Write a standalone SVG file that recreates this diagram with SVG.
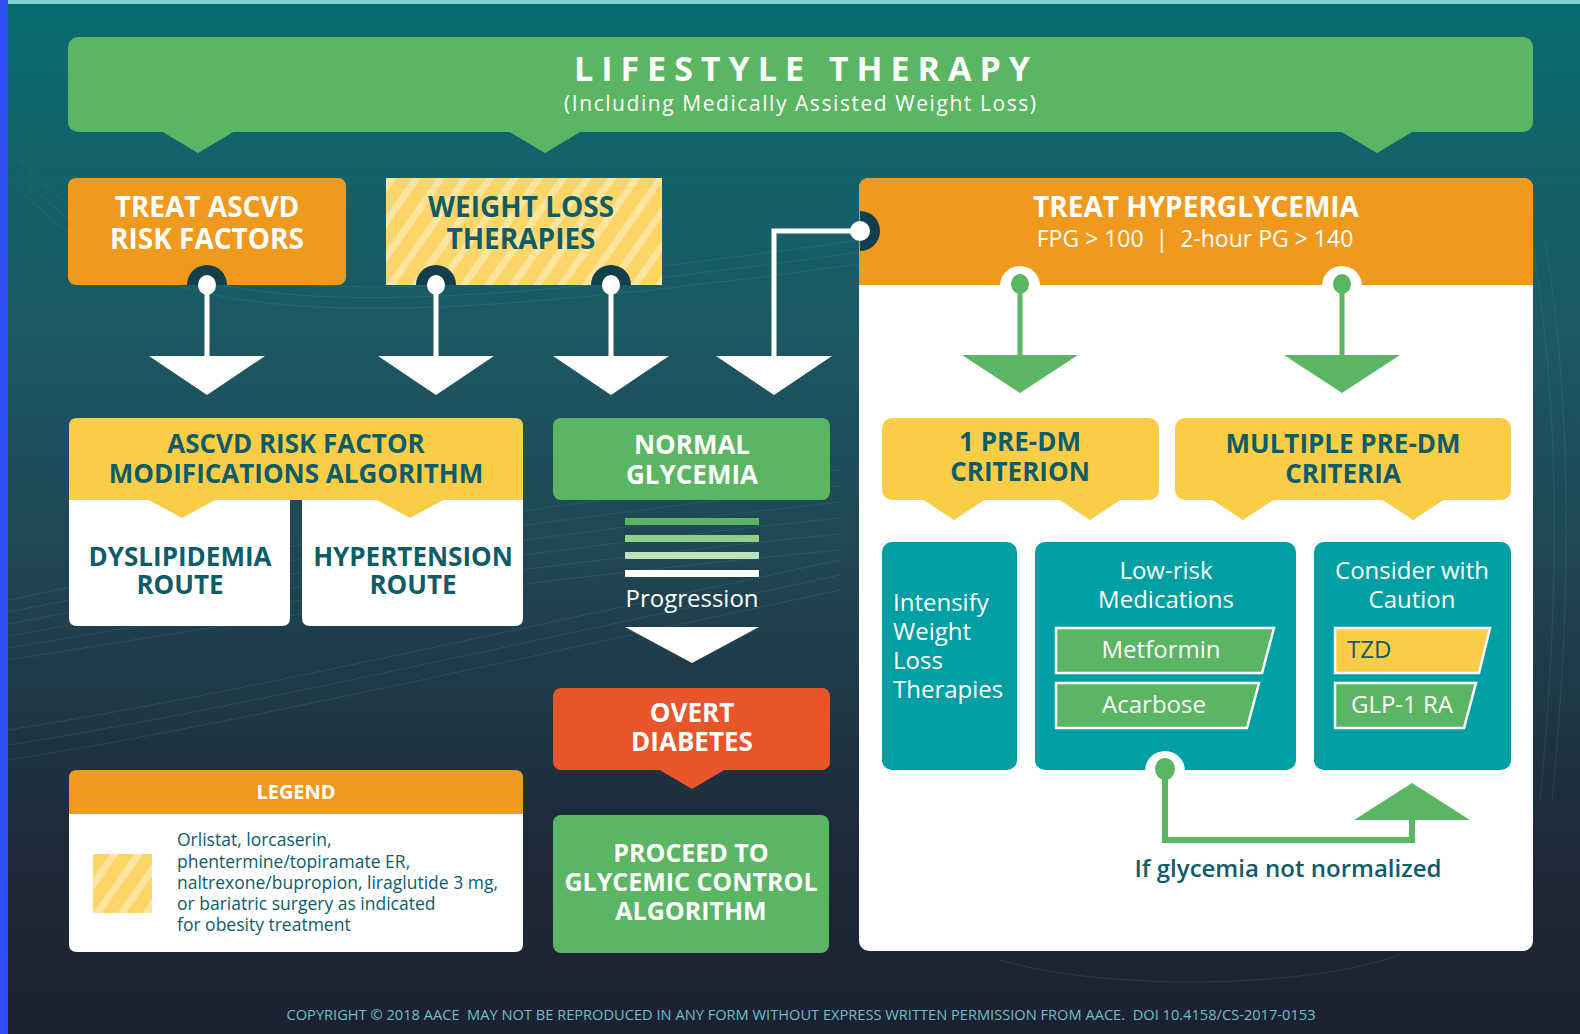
<svg xmlns="http://www.w3.org/2000/svg" width="1580" height="1034" viewBox="0 0 1580 1034">
<defs>
<linearGradient id="bg" x1="0" y1="0" x2="0" y2="1">
<stop offset="0" stop-color="#096b71"/>
<stop offset="0.3" stop-color="#1b5a64"/>
<stop offset="0.55" stop-color="#204552"/>
<stop offset="0.8" stop-color="#1e2b3a"/>
<stop offset="1" stop-color="#1c2131"/>
</linearGradient>
<pattern id="stripes" patternUnits="userSpaceOnUse" width="20" height="20" patternTransform="rotate(35)">
<rect width="20" height="20" fill="#fdd66a"/>
<rect width="7" height="20" fill="#fee49c"/>
</pattern>
<style>
text{font-family:'Open Sans','Liberation Sans',sans-serif}
.b{font-weight:700}
.s{font-weight:600}
.w{fill:#ffffff}
.d{fill:#0e5c68}
.c{text-anchor:middle}
.t28{font-size:28px}
.t26{font-size:26px}
.t24{font-size:24px}
.grn{fill:#5ab662}
.org{fill:#f0991f}
.yel{fill:#f9cd46}
.tea{fill:#009fa4}
.wl{stroke:#ffffff;stroke-width:5;fill:none}
.gl{stroke:#5ab662;stroke-width:5;fill:none}
.notch{fill:#123f4a}
.deco{fill:none;stroke:#4fb3bb;stroke-width:1;opacity:0.16}
</style>
</defs>
<rect width="1580" height="1034" fill="url(#bg)"/>
<g id="decoration">
<path class="deco" d="M8 600 C200 560 420 520 840 470"/>
<path class="deco" d="M8 612 C200 574 420 534 840 486"/>
<path class="deco" d="M8 624 C200 588 420 548 840 502"/>
<path class="deco" d="M8 636 C200 602 420 562 840 518"/>
<path class="deco" d="M8 648 C200 616 420 576 840 534"/>
<path class="deco" d="M8 660 C200 630 420 590 840 550"/>
<path class="deco" d="M8 730 C200 700 420 650 840 560"/>
<path class="deco" d="M8 745 C200 715 420 665 840 575"/>
<path class="deco" d="M8 760 C200 730 420 680 840 590"/>
<path class="deco" d="M20 160 C150 300 300 320 860 240"/>
<path class="deco" d="M20 175 C150 310 300 330 860 252"/>
<path class="deco" d="M20 190 C150 320 300 340 860 264"/>
<path class="deco" d="M1533 250 C1560 400 1560 600 1540 800"/>
<path class="deco" d="M1545 240 C1572 400 1572 600 1552 800"/>
<path class="deco" d="M1000 960 C1100 990 1300 990 1400 955"/>
</g>
<rect x="0" y="0" width="1580" height="4" fill="#7ecfd0"/>
<rect x="0" y="0" width="8" height="1034" fill="#2f4ff6"/>

<g id="lifestyle-therapy">
<rect x="68" y="37" width="1465" height="95" rx="10" class="grn"/>
<polygon points="161,131 235,131 198,153" class="grn"/>
<polygon points="508,131 582,131 545,153" class="grn"/>
<polygon points="1340,131 1414,131 1377,153" class="grn"/>
<text x="802" y="81" class="b w c" font-size="34" textLength="456" lengthAdjust="spacing">LIFESTYLE THERAPY</text>
<text x="800" y="111" class="w c" font-size="21" textLength="472" lengthAdjust="spacing">(Including Medically Assisted Weight Loss)</text>
</g>

<g id="treat-ascvd">
<rect x="68" y="178" width="278" height="107" rx="8" class="org"/>
<text class="b w c t28"><tspan x="207" y="217">TREAT ASCVD</tspan><tspan x="207" y="249">RISK FACTORS</tspan></text>
<path class="notch" d="M187 285 A20 20 0 0 1 227 285 Z"/>
</g>

<g id="weight-loss">
<rect x="386" y="178" width="276" height="107" fill="url(#stripes)"/>
<text class="b d c t28"><tspan x="521" y="217">WEIGHT LOSS</tspan><tspan x="521" y="249">THERAPIES</tspan></text>
<path class="notch" d="M416 285 A20 20 0 0 1 456 285 Z"/>
<path class="notch" d="M591 285 A20 20 0 0 1 631 285 Z"/>
</g>

<g id="treat-hyperglycemia">
<rect x="859" y="178" width="674" height="773" rx="10" fill="#ffffff"/>
<path class="org" d="M859 285 V188 Q859 178 869 178 H1523 Q1533 178 1533 188 V285 Z"/>
<path class="notch" d="M860 211 A20 20 0 0 1 860 251 Z"/>
<text class="w c"><tspan x="1196" y="217" class="b t28">TREAT HYPERGLYCEMIA</tspan><tspan x="1195" y="247" font-size="23" xml:space="preserve">FPG &gt; 100  |  2-hour PG &gt; 140</tspan></text>
<path fill="#ffffff" d="M1000 286 A20 20 0 0 1 1040 286 Z"/>
<path fill="#ffffff" d="M1322 286 A20 20 0 0 1 1362 286 Z"/>
</g>

<g id="ascvd-algorithm">
<path class="yel" d="M69 500 V426 Q69 418 77 418 H515 Q523 418 523 426 V500 Z"/>
<path fill="#ffffff" d="M69 500 H290 V618 Q290 626 282 626 H77 Q69 626 69 618 Z"/>
<path fill="#ffffff" d="M302 500 H523 V618 Q523 626 515 626 H310 Q302 626 302 618 Z"/>
<polygon class="yel" points="147,499 217,499 182,518"/>
<polygon class="yel" points="375,499 445,499 410,518"/>
<text class="b d c t26"><tspan x="296" y="453">ASCVD RISK FACTOR</tspan><tspan x="296" y="483">MODIFICATIONS ALGORITHM</tspan></text>
<text class="b d c t26"><tspan x="180" y="566">DYSLIPIDEMIA</tspan><tspan x="180" y="594">ROUTE</tspan></text>
<text class="b d c t26"><tspan x="413" y="566">HYPERTENSION</tspan><tspan x="413" y="594">ROUTE</tspan></text>
</g>

<g id="normal-glycemia">
<rect x="553" y="418" width="277" height="82" rx="8" class="grn"/>
<text class="b w c t26"><tspan x="692" y="454">NORMAL</tspan><tspan x="692" y="484">GLYCEMIA</tspan></text>
</g>

<g id="progression">
<rect x="625" y="518" width="134" height="7" fill="#5ab662"/>
<rect x="625" y="535" width="134" height="7" fill="#8fce8c"/>
<rect x="625" y="552" width="134" height="7" fill="#bfe3bc"/>
<rect x="625" y="570" width="134" height="7" fill="#ffffff"/>
<text x="692" y="607" class="w c t24">Progression</text>
</g>

<g id="overt-diabetes">
<rect x="553" y="688" width="277" height="82" rx="8" fill="#e9552a"/>
<polygon points="658,769 726,769 692,789" fill="#e9552a"/>
<text class="b w c t26"><tspan x="692" y="722">OVERT</tspan><tspan x="692" y="751">DIABETES</tspan></text>
</g>

<g id="proceed">
<rect x="553" y="815" width="276" height="138" rx="8" class="grn"/>
<text class="b w c" font-size="25"><tspan x="691" y="862">PROCEED TO</tspan><tspan x="691" y="891">GLYCEMIC CONTROL</tspan><tspan x="691" y="920">ALGORITHM</tspan></text>
</g>

<g id="legend">
<path class="org" d="M69 814 V778 Q69 770 77 770 H515 Q523 770 523 778 V814 Z"/>
<path fill="#ffffff" d="M69 814 H523 V944 Q523 952 515 952 H77 Q69 952 69 944 Z"/>
<text x="296" y="799" class="b w c" font-size="20">LEGEND</text>
<rect x="93" y="854" width="59" height="59" fill="url(#stripes)"/>
<text class="d" font-size="17.5">
<tspan x="177" y="846">Orlistat, lorcaserin,</tspan>
<tspan x="177" y="868">phentermine/topiramate ER,</tspan>
<tspan x="177" y="889">naltrexone/bupropion, liraglutide 3 mg,</tspan>
<tspan x="177" y="910">or bariatric surgery as indicated</tspan>
<tspan x="177" y="931">for obesity treatment</tspan>
</text>
</g>

<g id="one-pre-dm">
<rect x="882" y="418" width="277" height="82" rx="10" class="yel"/>
<polygon class="yel" points="922,499 986,499 954,520"/>
<polygon class="yel" points="1058,499 1122,499 1090,520"/>
<text class="b d c t26"><tspan x="1020" y="451">1 PRE-DM</tspan><tspan x="1020" y="481">CRITERION</tspan></text>
</g>

<g id="multiple-pre-dm">
<rect x="1175" y="418" width="336" height="82" rx="10" class="yel"/>
<polygon class="yel" points="1211,499 1275,499 1243,520"/>
<polygon class="yel" points="1381,499 1445,499 1413,520"/>
<text class="b d c t26"><tspan x="1343" y="453">MULTIPLE PRE-DM</tspan><tspan x="1343" y="483">CRITERIA</tspan></text>
</g>

<g id="intensify">
<rect x="882" y="542" width="135" height="228" rx="10" class="tea"/>
<text class="w t24">
<tspan x="893" y="611">Intensify</tspan>
<tspan x="893" y="640">Weight</tspan>
<tspan x="893" y="669">Loss</tspan>
<tspan x="893" y="698">Therapies</tspan>
</text>
</g>

<g id="low-risk">
<rect x="1035" y="542" width="261" height="228" rx="10" class="tea"/>
<path fill="#ffffff" d="M1145 771 A20 20 0 0 1 1185 771 Z"/>
<text class="w c t24"><tspan x="1166" y="579">Low-risk</tspan><tspan x="1166" y="608">Medications</tspan></text>
<polygon points="1056,628 1274,628 1262,673 1056,673" fill="#5ab662" stroke="#ffffff" stroke-width="2.5"/>
<text x="1161" y="658" class="w c t24">Metformin</text>
<polygon points="1056,683 1259,683 1247,728 1056,728" fill="#5ab662" stroke="#ffffff" stroke-width="2.5"/>
<text x="1154" y="713" class="w c t24">Acarbose</text>
</g>

<g id="caution">
<rect x="1314" y="542" width="197" height="228" rx="10" class="tea"/>
<text class="w c t24"><tspan x="1412" y="579">Consider with</tspan><tspan x="1412" y="608">Caution</tspan></text>
<polygon points="1335,628 1490,628 1479,673 1335,673" fill="#f9cd46" stroke="#ffffff" stroke-width="2.5"/>
<text x="1347" y="658" class="d t24">TZD</text>
<polygon points="1335,683 1476,683 1464,728 1335,728" fill="#5ab662" stroke="#ffffff" stroke-width="2.5"/>
<text x="1402" y="713" class="w c t24">GLP-1 RA</text>
</g>

<g id="connectors">
<ellipse cx="207" cy="285" rx="9" ry="10" fill="#ffffff"/>
<path class="wl" d="M207 285 V360"/>
<polygon points="149,356 265,356 207,395" fill="#ffffff"/>
<ellipse cx="436" cy="285" rx="9" ry="10" fill="#ffffff"/>
<path class="wl" d="M436 285 V360"/>
<polygon points="378,356 494,356 436,395" fill="#ffffff"/>
<ellipse cx="611" cy="285" rx="9" ry="10" fill="#ffffff"/>
<path class="wl" d="M611 285 V360"/>
<polygon points="553,356 669,356 611,395" fill="#ffffff"/>
<ellipse cx="860" cy="231" rx="10" ry="10" fill="#ffffff"/>
<path class="wl" d="M860 231 H774 V360"/>
<polygon points="716,356 832,356 774,395" fill="#ffffff"/>
<polygon points="625,627 759,627 692,663" fill="#ffffff"/>
<ellipse cx="1020" cy="284" rx="9" ry="10" fill="#5ab662"/>
<path class="gl" d="M1020 284 V358"/>
<polygon points="962,355 1078,355 1020,393" fill="#5ab662"/>
<ellipse cx="1342" cy="284" rx="9" ry="10" fill="#5ab662"/>
<path class="gl" d="M1342 284 V358"/>
<polygon points="1284,355 1400,355 1342,393" fill="#5ab662"/>
<ellipse cx="1165" cy="769" rx="10" ry="11" fill="#5ab662"/>
<path d="M1165 769 V840 H1412 V818" fill="none" stroke="#5ab662" stroke-width="6"/>
<polygon points="1354,820 1470,820 1412,783" fill="#5ab662"/>
</g>
<text x="1288" y="877" class="s d c t24">If glycemia not normalized</text>
<text x="801" y="1020" font-size="14" fill="#6cc0c7" text-anchor="middle" textLength="1029" lengthAdjust="spacingAndGlyphs" xml:space="preserve">COPYRIGHT © 2018 AACE  MAY NOT BE REPRODUCED IN ANY FORM WITHOUT EXPRESS WRITTEN PERMISSION FROM AACE.  DOI 10.4158/CS-2017-0153</text>
</svg>
